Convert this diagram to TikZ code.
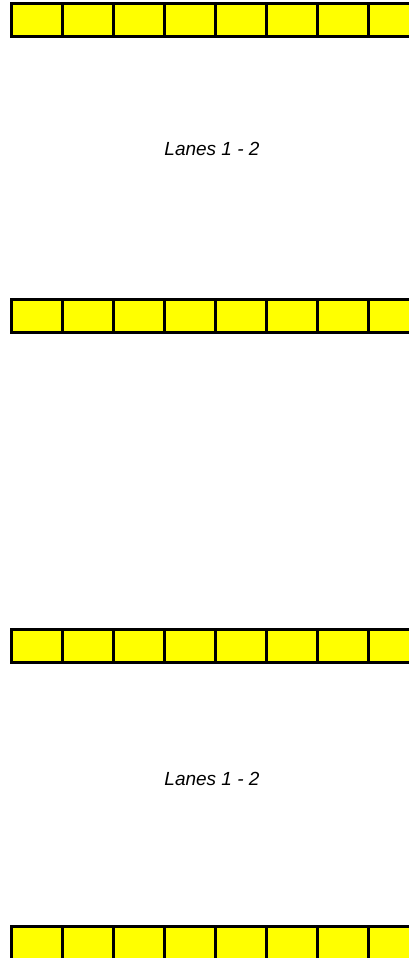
\documentclass[tikz,border=0pt]{standalone}
\usepackage{fontspec}
\setmainfont{Liberation Sans}
\usetikzlibrary{positioning}
\definecolor{LaneYellow}{RGB}{255,255,0}

\begin{document}
\begin{tikzpicture}[
  x=1pt, y=-1pt,
  lanecell/.style={
    draw=black,
    fill=LaneYellow,
    line width=3pt,
    minimum width=51pt,
    minimum height=33pt,
    inner sep=0pt,
    anchor=north west
  },
  lanelabel/.style={font=\fontsize{19}{22}\selectfont\itshape}
]
\useasboundingbox (0,0) rectangle (409,958);
\clip (0,0) rectangle (409,958);
% strips of cells
\foreach \s/\y in {1/2, 2/298, 3/628, 4/925}{
  \foreach \c in {0,...,7}{
    \node[lanecell] (s\s c\c) at ({9.5+51*\c},\y) {};
  }
}
% labels
\node[lanelabel] (lanesA) at (212,149) {Lanes 1 - 2};
\node[lanelabel] (lanesB) at (212,779) {Lanes 1 - 2};
\end{tikzpicture}
\end{document}
